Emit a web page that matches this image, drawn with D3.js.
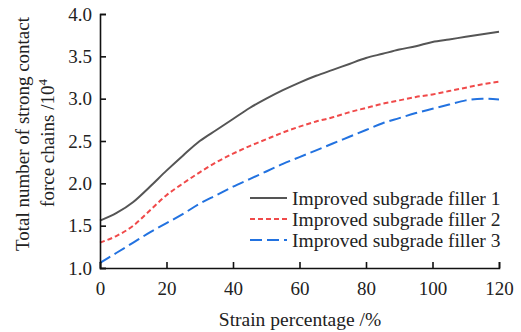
<!DOCTYPE html>
<meta charset="utf-8">
<style>
body { margin: 0; background: #fff; }
text { font-family: "Liberation Serif", "DejaVu Serif", serif; fill: #222; }
</style>
<body>
<svg width="521" height="332"></svg>
<script src="https://d3js.org/d3.v7.min.js"></script>
<script>
var strain  = [0,5,10,15,20,25,30,35,40,45,50,55,60,65,70,75,80,85,90,95,100,105,110,115,120];
var filler1 = [1.56,1.65,1.78,1.96,2.15,2.33,2.50,2.63,2.76,2.89,3.00,3.10,3.19,3.27,3.34,3.41,3.48,3.53,3.58,3.62,3.67,3.70,3.73,3.76,3.79];
var filler2 = [1.30,1.38,1.50,1.68,1.86,2.00,2.13,2.25,2.35,2.44,2.52,2.60,2.67,2.73,2.78,2.84,2.89,2.94,2.98,3.02,3.05,3.09,3.13,3.17,3.20];
var filler3 = [1.06,1.18,1.30,1.42,1.53,1.64,1.76,1.86,1.96,2.05,2.14,2.23,2.31,2.39,2.47,2.55,2.63,2.71,2.77,2.83,2.88,2.93,2.98,3.00,2.99];
var seriesNames = ["Improved subgrade filler 1", "Improved subgrade filler 2", "Improved subgrade filler 3"];
var xTicks = [0,20,40,60,80,100,120];
var yTicks = [1.0,1.5,2.0,2.5,3.0,3.5,4.0];

var margin = {top: 14, right: 22, bottom: 64, left: 100};
var svg = d3.select("svg");
var width = 521 - margin.left - margin.right;
var height = 332 - margin.top - margin.bottom;

var x = d3.scaleLinear().domain([0, 120]).range([0, width]);
var y = d3.scaleLinear().domain([1, 4]).range([height, 0]);

var g = svg.append("g")
    .attr("transform", "translate(" + margin.left + "," + margin.top + ")");

var styles = [
    {color: "#555555", dash: null},
    {color: "#f04a4a", dash: "5,3"},
    {color: "#2272e0", dash: "12,5"}
];
var allData = [filler1, filler2, filler3];

var line = d3.line()
    .x(function(d, i) { return x(strain[i]); })
    .y(function(d) { return y(d); })
    .curve(d3.curveMonotoneX);

allData.forEach(function(s, k) {
    g.append("path")
        .datum(s)
        .attr("fill", "none")
        .attr("stroke", styles[k].color)
        .attr("stroke-width", 2)
        .attr("stroke-dasharray", styles[k].dash)
        .attr("d", line);
});

var xAxis = g.append("g")
    .attr("transform", "translate(0," + height + ")")
    .call(d3.axisBottom(x).tickValues(xTicks).tickSize(-6).tickPadding(14).tickFormat(d3.format("d")));
var yAxis = g.append("g")
    .call(d3.axisLeft(y).tickValues(yTicks).tickSize(-6).tickPadding(8).tickFormat(d3.format(".1f")));

[xAxis, yAxis].forEach(function(a) {
    a.select(".domain").attr("stroke", "#111").attr("stroke-width", 1.6);
    a.selectAll(".tick line").attr("stroke", "#111").attr("stroke-width", 1.6);
    a.selectAll(".tick text").attr("font-family", "Liberation Serif").attr("font-size", 19).attr("fill", "#222");
});

svg.append("text")
    .attr("x", 300)
    .attr("y", 326)
    .attr("text-anchor", "middle")
    .attr("font-size", 19.5)
    .text("Strain percentage /%");

svg.append("text")
    .attr("transform", "translate(29,134) rotate(-90)")
    .attr("text-anchor", "middle")
    .attr("font-size", 19)
    .text("Total number of strong contact");
var t2 = svg.append("text")
    .attr("transform", "translate(54,143) rotate(-90)")
    .attr("text-anchor", "middle")
    .attr("font-size", 19);
t2.append("tspan").text("force chains /10");
t2.append("tspan").attr("font-size", 13).attr("dy", -7).text("4");

var legend = svg.append("g").attr("transform", "translate(250,198)");
seriesNames.forEach(function(n, k) {
    var row = legend.append("g").attr("transform", "translate(0," + (k * 21) + ")");
    row.append("line")
        .attr("x1", 0).attr("x2", 37).attr("y1", 0).attr("y2", 0)
        .attr("stroke", styles[k].color)
        .attr("stroke-width", 2)
        .attr("stroke-dasharray", styles[k].dash);
    row.append("text")
        .attr("x", 42).attr("y", 6.5)
        .attr("font-size", 19.5)
        .text(n);
});
</script>
</body>
